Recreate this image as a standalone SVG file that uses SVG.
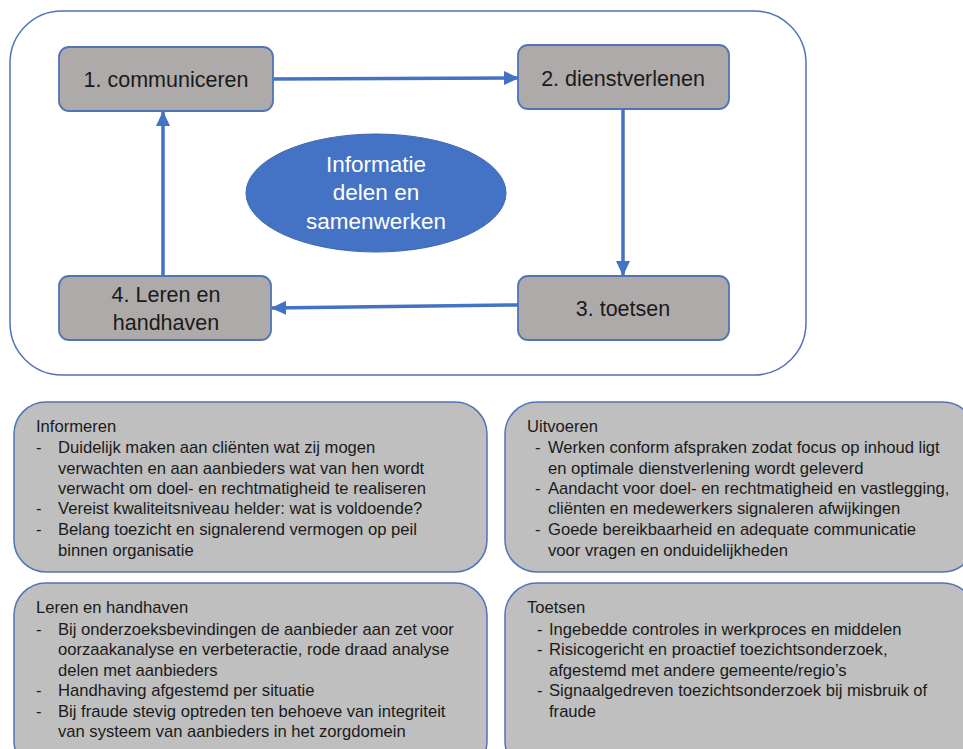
<svg xmlns="http://www.w3.org/2000/svg" width="963" height="749" viewBox="0 0 963 749">
  <defs>
    <marker id="ah" markerUnits="userSpaceOnUse" markerWidth="15" markerHeight="14" refX="14" refY="7" orient="auto">
      <path d="M0,0 L15,7 L0,14 Z" fill="#4472c4"/>
    </marker>
  </defs>
  <style>
    .frame { fill: #ffffff; stroke: #4f74b8; stroke-width: 1.5; }
    .node { fill: #aeaaaa; stroke: #4f74b8; stroke-width: 1.8; }
    .panel { fill: #bfbfbf; stroke: #4f74b8; stroke-width: 1.5; }
    .lbl { font-family: "Liberation Sans", Arial, sans-serif; font-size: 21.5px; fill: #1a1a1a; text-anchor: middle; }
    .ell { font-family: "Liberation Sans", Arial, sans-serif; font-size: 22.5px; fill: #ffffff; text-anchor: middle; }
    .txt { font-family: "Liberation Sans", Arial, sans-serif; font-size: 16.6px; fill: #1a1a1a; }
    .conn { stroke: #4472c4; stroke-width: 3.5; fill: none; marker-end: url(#ah); }
  </style>
  <rect width="963" height="749" fill="#ffffff"/>
  <rect id="frame" class="frame" x="10" y="11" width="796" height="364" rx="52" ry="52"/>

  <g id="connectors">
    <line class="conn" x1="273" y1="79" x2="518" y2="78"/>
    <line class="conn" x1="623" y1="109" x2="623" y2="275"/>
    <line class="conn" x1="518" y1="305" x2="272" y2="308"/>
    <line class="conn" x1="163" y1="276" x2="163" y2="112"/>
  </g>

  <g id="node-communiceren">
    <rect class="node" x="59" y="47" width="214" height="64" rx="10"/>
    <text class="lbl" x="166" y="87">1. communiceren</text>
  </g>
  <g id="node-dienstverlenen">
    <rect class="node" x="518" y="45" width="211" height="64" rx="10"/>
    <text class="lbl" x="623" y="86">2. dienstverlenen</text>
  </g>
  <g id="node-toetsen">
    <rect class="node" x="518" y="276" width="211" height="64" rx="10"/>
    <text class="lbl" x="623" y="316">3. toetsen</text>
  </g>
  <g id="node-leren">
    <rect class="node" x="59" y="276" width="212" height="64" rx="10"/>
    <text class="lbl" x="166" y="302">4. Leren en</text>
    <text class="lbl" x="166" y="330">handhaven</text>
  </g>
  <g id="node-informatie">
    <ellipse cx="376" cy="193" rx="130" ry="59" fill="#4472c4" stroke="#3f67b0" stroke-width="1"/>
    <text class="ell" x="376" y="172">Informatie</text>
    <text class="ell" x="376" y="200">delen en</text>
    <text class="ell" x="376" y="229">samenwerken</text>
  </g>

  <g id="panel-informeren">
    <rect class="panel" x="14" y="402" width="473" height="170" rx="32"/>
    <text class="txt" x="36" y="432">Informeren</text>
    <text class="txt" x="36" y="453">-</text>
    <text class="txt" x="58" y="453">Duidelijk maken aan cliënten wat zij mogen</text>
    <text class="txt" x="58" y="474">verwachten en aan aanbieders wat van hen wordt</text>
    <text class="txt" x="58" y="494">verwacht om doel- en rechtmatigheid te realiseren</text>
    <text class="txt" x="36" y="514">-</text>
    <text class="txt" x="58" y="514">Vereist kwaliteitsniveau helder: wat is voldoende?</text>
    <text class="txt" x="36" y="535">-</text>
    <text class="txt" x="58" y="535">Belang toezicht en signalerend vermogen op peil</text>
    <text class="txt" x="58" y="556">binnen organisatie</text>
  </g>

  <g id="panel-uitvoeren">
    <rect class="panel" x="505" y="402" width="470" height="170" rx="32"/>
    <text class="txt" x="527" y="432">Uitvoeren</text>
    <text class="txt" x="535" y="453">-</text>
    <text class="txt" x="548" y="453">Werken conform afspraken zodat focus op inhoud ligt</text>
    <text class="txt" x="548" y="474">en optimale dienstverlening wordt geleverd</text>
    <text class="txt" x="535" y="494">-</text>
    <text class="txt" x="548" y="494">Aandacht voor doel- en rechtmatigheid en vastlegging,</text>
    <text class="txt" x="548" y="514">cliënten en medewerkers signaleren afwijkingen</text>
    <text class="txt" x="535" y="535">-</text>
    <text class="txt" x="548" y="535">Goede bereikbaarheid en adequate communicatie</text>
    <text class="txt" x="548" y="556">voor vragen en onduidelijkheden</text>
  </g>

  <g id="panel-leren">
    <rect class="panel" x="14" y="583" width="473" height="190" rx="32"/>
    <text class="txt" x="36" y="613">Leren en handhaven</text>
    <text class="txt" x="36" y="635">-</text>
    <text class="txt" x="58" y="635">Bij onderzoeksbevindingen de aanbieder aan zet voor</text>
    <text class="txt" x="58" y="655">oorzaakanalyse en verbeteractie, rode draad analyse</text>
    <text class="txt" x="58" y="676">delen met aanbieders</text>
    <text class="txt" x="36" y="696">-</text>
    <text class="txt" x="58" y="696">Handhaving afgestemd per situatie</text>
    <text class="txt" x="36" y="717">-</text>
    <text class="txt" x="58" y="717">Bij fraude stevig optreden ten behoeve van integriteit</text>
    <text class="txt" x="58" y="737">van systeem van aanbieders in het zorgdomein</text>
  </g>

  <g id="panel-toetsen">
    <rect class="panel" x="505" y="583" width="470" height="190" rx="32"/>
    <text class="txt" x="527" y="613">Toetsen</text>
    <text class="txt" x="537" y="635">-</text>
    <text class="txt" x="549" y="635">Ingebedde controles in werkproces en middelen</text>
    <text class="txt" x="537" y="655">-</text>
    <text class="txt" x="549" y="655">Risicogericht en proactief toezichtsonderzoek,</text>
    <text class="txt" x="549" y="676">afgestemd met andere gemeente/regio’s</text>
    <text class="txt" x="537" y="696">-</text>
    <text class="txt" x="549" y="696">Signaalgedreven toezichtsonderzoek bij misbruik of</text>
    <text class="txt" x="549" y="717">fraude</text>
  </g>
</svg>
